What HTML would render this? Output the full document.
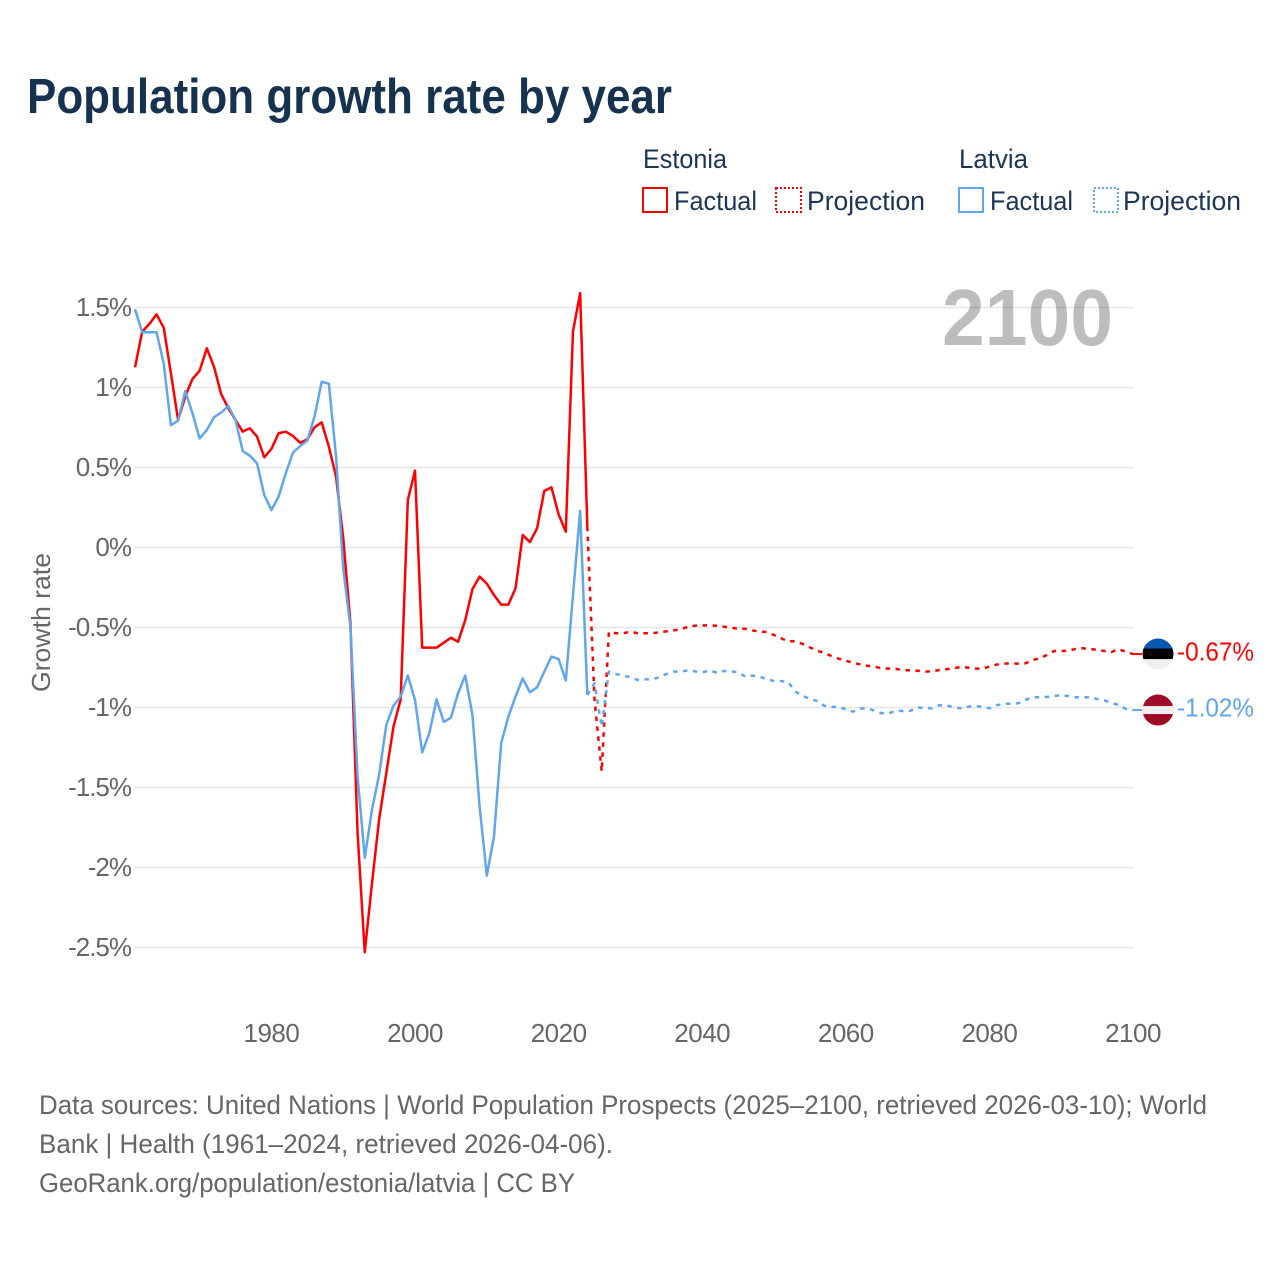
<!DOCTYPE html>
<html lang="en">
<head>
<meta charset="utf-8">
<title>Population growth rate by year</title>
<style>
html,body{margin:0;padding:0;background:#fff;width:1280px;height:1280px;overflow:hidden}
svg{display:block}
text{font-family:"Liberation Sans",sans-serif}
</style>
</head>
<body>
<svg id="chart" xmlns="http://www.w3.org/2000/svg" width="1280" height="1280" viewBox="0 0 1280 1280">
  <defs>
    <clipPath id="clip-ee"><circle id="clip-ee-c" r="15.5"></circle></clipPath>
    <clipPath id="clip-lv"><circle id="clip-lv-c" r="15.5"></circle></clipPath>
  </defs>
  <rect width="1280" height="1280" fill="#fff"></rect>
  <text x="27" y="113" font-size="49" font-weight="700" fill="#17324f" textLength="645" lengthAdjust="spacingAndGlyphs">Population growth rate by year</text>

  <g font-size="27" fill="#1c3557">
    <text x="643" y="168" textLength="84" lengthAdjust="spacingAndGlyphs">Estonia</text>
    <text x="959" y="168" textLength="69" lengthAdjust="spacingAndGlyphs">Latvia</text>
    <g>
      <rect x="643" y="188" width="24" height="24" fill="none" stroke="#ff0000" stroke-width="2"></rect>
      <text x="674" y="210" textLength="83" lengthAdjust="spacingAndGlyphs">Factual</text>
    </g>
    <g>
      <rect x="776" y="188" width="25" height="24" fill="none" stroke="#ff0000" stroke-width="2" stroke-dasharray="2 2"></rect>
      <text x="807" y="210" textLength="118" lengthAdjust="spacingAndGlyphs">Projection</text>
    </g>
    <g>
      <rect x="959" y="188" width="24" height="24" fill="none" stroke="#5fa6ee" stroke-width="2"></rect>
      <text x="990" y="210" textLength="83" lengthAdjust="spacingAndGlyphs">Factual</text>
    </g>
    <g>
      <rect x="1094" y="188" width="24" height="24" fill="none" stroke="#5fa6ee" stroke-width="2" stroke-dasharray="2 2"></rect>
      <text x="1123" y="210" textLength="118" lengthAdjust="spacingAndGlyphs">Projection</text>
    </g>
  </g>

  <g id="grid"></g>
  <text x="942" y="345" font-size="80" font-weight="700" fill="#000" fill-opacity="0.26" textLength="171" lengthAdjust="spacingAndGlyphs">2100</text>
  <g id="y-labels" font-size="26" fill="#666" text-anchor="end" letter-spacing="-1"></g>
  <g id="x-labels" font-size="26" fill="#666" text-anchor="middle" letter-spacing="-0.5"></g>
  <text transform="translate(50 692) rotate(-90)" font-size="26" fill="#666" textLength="139" lengthAdjust="spacingAndGlyphs">Growth rate</text>
  <g id="series"></g>
  <g id="ends"></g>

  <g font-size="27" fill="#666">
    <text x="39" y="1114" textLength="1168" lengthAdjust="spacingAndGlyphs">Data sources: United Nations | World Population Prospects (2025–2100, retrieved 2026-03-10); World</text>
    <text x="39" y="1153" textLength="574" lengthAdjust="spacingAndGlyphs">Bank | Health (1961–2024, retrieved 2026-04-06).</text>
    <text x="39" y="1192" textLength="536" lengthAdjust="spacingAndGlyphs">GeoRank.org/population/estonia/latvia | CC BY</text>
  </g>
</svg>
<script>
var yTicks = [1.5, 1, 0.5, 0, -0.5, -1, -1.5, -2, -2.5];
var xTicks = [1980, 2000, 2020, 2040, 2060, 2080, 2100];
var factualStartYear = 1961;
var projectionStartYear = 2024;
var estoniaFactual = [1.126,1.349,1.397,1.457,1.374,1.089,0.797,0.943,1.053,1.105,1.245,1.130,0.959,0.870,0.797,0.724,0.745,0.693,0.564,0.616,0.714,0.724,0.697,0.655,0.676,0.751,0.782,0.630,0.443,
0.06,-0.47,-1.785,-2.53,-2.10,-1.70,-1.41,-1.12,-0.95,0.297,0.48,-0.626,-0.626,-0.626,-0.595,-0.564,-0.589,-0.453,-0.26,-0.182,-0.226,-0.297,-0.357,-0.357,-0.255,0.078,0.034,0.12,0.353,0.376,0.207,0.099,
1.35,1.59,0.13];
var latviaFactual = [1.489,1.345,1.345,1.345,1.151,0.764,0.793,0.978,0.839,0.682,0.734,0.814,0.843,0.884,0.797,0.603,0.574,0.526,0.328,0.234,0.318,0.464,0.593,0.634,0.668,0.818,1.036,1.024,0.568,
-0.13,-0.495,-1.43,-1.94,-1.64,-1.42,-1.11,-0.989,-0.932,-0.80,-0.953,-1.28,-1.16,-0.949,-1.09,-1.064,-0.91,-0.80,-1.047,-1.62,-2.05,-1.807,-1.224,-1.057,-0.932,-0.818,-0.905,-0.874,-0.776,-0.682,-0.697,-0.832,-0.30,0.23,-0.922];
var estoniaProjection = [0.13,-0.95,-1.40,-0.528,-0.536,-0.536,-0.526,-0.536,-0.536,-0.536,-0.53,-0.524,-0.518,-0.512,-0.495,-0.489,-0.487,-0.487,-0.489,-0.495,-0.501,-0.508,-0.508,-0.518,-0.526,-0.528,-0.547,-0.568,-0.586,-0.586,-0.603,-0.624,-0.645,-0.659,-0.678,-0.695,-0.707,-0.722,-0.73,-0.739,
-0.745,-0.755,-0.757,-0.759,-0.766,-0.768,-0.770,-0.776,-0.774,-0.766,-0.761,-0.755,-0.747,-0.751,-0.757,-0.757,-0.745,-0.732,-0.726,-0.724,-0.726,-0.724,-0.703,-0.693,-0.672,-0.647,-0.647,-0.645,-0.634,-0.630,-0.634,-0.639,-0.647,-0.653,-0.636,-0.651,-0.666];
var latviaProjection = [-0.922,-0.849,-1.12,-0.776,-0.791,-0.801,-0.811,-0.828,-0.824,-0.824,-0.811,-0.791,-0.776,-0.776,-0.768,-0.774,-0.782,-0.768,-0.782,-0.772,-0.774,-0.78,-0.807,-0.801,-0.807,-0.824,-0.834,-0.834,-0.843,-0.901,-0.928,-0.947,-0.959,-0.989,-0.997,-0.997,-1.011,-1.026,-1.007,-1.005,
-1.02,-1.036,-1.036,-1.02,-1.022,-1.02,-0.999,-1.005,-1.005,-0.986,-0.986,-0.999,-1.005,-0.995,-0.991,-0.995,-1.005,-0.986,-0.978,-0.976,-0.974,-0.953,-0.936,-0.936,-0.934,-0.928,-0.924,-0.928,-0.936,-0.936,-0.936,-0.947,-0.955,-0.972,-0.984,-1.009,-1.016];

var NS = 'http://www.w3.org/2000/svg';
var RED = '#ff0000';
var BLUE = '#5fa6ee';
var FLAG_X = 1158;

function xScale(year) { return 135 + (year - 1961) * (998 / 139); }
function yScale(v) { return 547.5 - v * 160; }
function make(tag, attrs, parent) {
  var el = document.createElementNS(NS, tag);
  for (var k in attrs) el.setAttribute(k, attrs[k]);
  parent.appendChild(el);
  return el;
}
function pathFrom(values, startYear) {
  var d = '';
  for (var i = 0; i < values.length; i++) {
    d += (i ? 'L' : 'M') + xScale(startYear + i).toFixed(2) + ' ' + yScale(values[i]).toFixed(2);
  }
  return d;
}
function label(v) { return v + '%'; }

var grid = document.getElementById('grid');
var yLabels = document.getElementById('y-labels');
yTicks.forEach(function (t) {
  var line = make('line', { x1: 135, x2: 1133, y1: yScale(t), y2: yScale(t), stroke: '#e6e6e6', 'stroke-width': 1.5 }, grid);
  
  
  var txt = make('text', { x: 131, y: yScale(t) + 8.5 }, yLabels);
  
  
  txt.textContent = label(t);
});

var xLabels = document.getElementById('x-labels');
xTicks.forEach(function (t) {
  var txt = make('text', { x: xScale(t), y: 1042 }, xLabels);
  
  
  txt.textContent = String(t);
});

var series = document.getElementById('series');
function drawLine(values, startYear, color, dashed, name) {
  var p = make('path', { d: pathFrom(values, startYear), fill: 'none', stroke: color, 'stroke-width': 2.5, 'stroke-linejoin': 'round' }, series);
  if (dashed) p.setAttribute('stroke-dasharray', '4.5 5.5');
  
  
}
drawLine(estoniaFactual, factualStartYear, RED, false, 'line-estonia-factual');
drawLine(estoniaProjection, projectionStartYear, RED, true, 'line-estonia-projection');
drawLine(latviaFactual, factualStartYear, BLUE, false, 'line-latvia-factual');
drawLine(latviaProjection, projectionStartYear, BLUE, true, 'line-latvia-projection');

var ends = document.getElementById('ends');
var eeValue = estoniaProjection[estoniaProjection.length - 1];
var lvValue = latviaProjection[latviaProjection.length - 1];
var eeY = yScale(eeValue);
var lvY = yScale(lvValue);

var eeConnector = make('line', { x1: 1133, x2: FLAG_X - 16, y1: eeY, y2: eeY, stroke: RED, 'stroke-width': 2 }, ends);


var lvConnector = make('line', { x1: 1133, x2: FLAG_X - 16, y1: lvY, y2: lvY, stroke: BLUE, 'stroke-width': 2 }, ends);



var cee = document.getElementById('clip-ee-c');
cee.setAttribute('cx', FLAG_X);
cee.setAttribute('cy', eeY);
var clv = document.getElementById('clip-lv-c');
clv.setAttribute('cx', FLAG_X);
clv.setAttribute('cy', lvY);

var eeFlag = make('g', { 'clip-path': 'url(#clip-ee)' }, ends);


make('rect', { x: FLAG_X - 16, y: eeY - 16, width: 32, height: 11, fill: '#0a57ae' }, eeFlag);
make('rect', { x: FLAG_X - 16, y: eeY - 5.5, width: 32, height: 11, fill: '#000' }, eeFlag);
make('rect', { x: FLAG_X - 16, y: eeY + 5, width: 32, height: 11, fill: '#efefef' }, eeFlag);

var lvFlag = make('g', { 'clip-path': 'url(#clip-lv)' }, ends);


make('rect', { x: FLAG_X - 16, y: lvY - 16, width: 32, height: 32, fill: '#9e0b27' }, lvFlag);
make('rect', { x: FLAG_X - 16, y: lvY - 4, width: 32, height: 8, fill: '#efefef' }, lvFlag);

var eeLabel = make('text', { x: 1177, y: eeY + 6.5, 'font-size': 26, fill: RED, textLength: 77, lengthAdjust: 'spacingAndGlyphs' }, ends);


eeLabel.textContent = eeValue.toFixed(2) + '%';
var lvLabel = make('text', { x: 1177, y: lvY + 6.5, 'font-size': 26, fill: BLUE, textLength: 77, lengthAdjust: 'spacingAndGlyphs' }, ends);


lvLabel.textContent = lvValue.toFixed(2) + '%';
</script>
</body>
</html>
